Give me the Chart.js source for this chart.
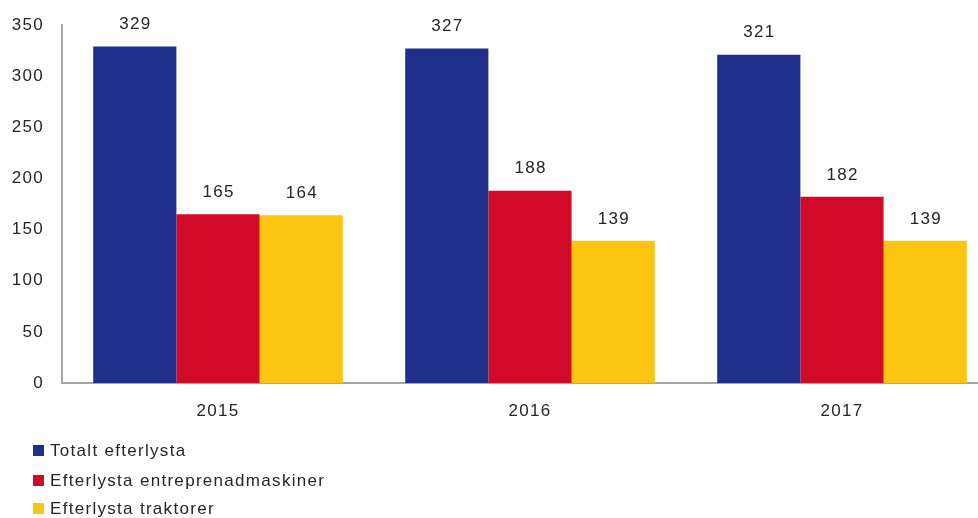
<!DOCTYPE html>
<html>
<head>
<meta charset="utf-8">
<script src="https://cdn.jsdelivr.net/npm/chart.js@4/dist/chart.umd.min.js"></script>
<style>
  html, body { margin: 0; padding: 0; background: #fff; overflow: hidden; }
  #wrap { width: 1000px; height: 518px; position: relative; }
</style>
</head>
<body>
<div id="wrap"><canvas id="c" width="1000" height="518"></canvas></div>
<script>
const categories = ['2015', '2016', '2017'];
const seriesNames = ['Totalt efterlysta', 'Efterlysta entreprenadmaskiner', 'Efterlysta traktorer'];
const totalt = [329, 327, 321];
const entreprenad = [165, 188, 182];
const traktorer = [164, 139, 139];
const yTicks = [0, 50, 100, 150, 200, 250, 300, 350];

const colors = ['#20308A', '#D10A2A', '#FAC411'];
const FONT = 'Liberation Sans';
const textColor = '#262626';
const SPACING = '1.3px';

const spacingPlugin = {
  id: 'spacing',
  beforeDraw(chart) { chart.ctx.letterSpacing = SPACING; }
};

const valueLabels = {
  id: 'valueLabels',
  afterDatasetsDraw(chart) {
    const ctx = chart.ctx;
    ctx.save();
    ctx.letterSpacing = SPACING;
    ctx.font = '17px "' + FONT + '"';
    ctx.fillStyle = textColor;
    ctx.textAlign = 'center';
    ctx.textBaseline = 'middle';
    chart.data.datasets.forEach((ds, i) => {
      chart.getDatasetMeta(i).data.forEach((bar, j) => {
        ctx.fillText(String(ds.data[j]), bar.x + 0.6, bar.y - 22);
      });
    });
    ctx.restore();
  }
};

const sideLegend = {
  id: 'sideLegend',
  afterDraw(chart) {
    const ctx = chart.ctx;
    ctx.save();
    ctx.letterSpacing = SPACING;
    ctx.font = '17px "' + FONT + '"';
    ctx.textBaseline = 'middle';
    ctx.textAlign = 'left';
    const rows = [451, 481, 509];
    chart.data.datasets.forEach((ds, i) => {
      const y = rows[i];
      ctx.fillStyle = ds.backgroundColor;
      ctx.fillRect(33, y - 6, 11, 11);
      ctx.fillStyle = textColor;
      ctx.fillText(ds.label, 50, y);
    });
    ctx.restore();
  }
};

new Chart(document.getElementById('c'), {
  type: 'bar',
  data: {
    labels: categories,
    datasets: [
      { label: seriesNames[0], data: totalt, backgroundColor: colors[0] },
      { label: seriesNames[1], data: entreprenad, backgroundColor: colors[1] },
      { label: seriesNames[2], data: traktorer, backgroundColor: colors[2] }
    ]
  },
  options: {
    responsive: false,
    animation: false,
    layout: { padding: { top: 25, right: 2, left: 0, bottom: 0 } },
    datasets: { bar: { categoryPercentage: 0.8, barPercentage: 1.0 } },
    plugins: { legend: { display: false }, tooltip: { enabled: false } },
    scales: {
      x: {
        grid: { display: false, drawTicks: false },
        border: { display: true, color: '#A6A6A6', width: 2 },
        ticks: { font: { family: FONT, size: 17 }, color: textColor, padding: 18 },
        afterFit(s) { s.height = 135; s.paddingLeft = 0; s.paddingRight = 0; }
      },
      y: {
        min: 0, max: 350,
        afterBuildTicks(s) { s.ticks = yTicks.map(v => ({ value: v })); },
        grid: { display: false, drawTicks: false },
        border: { display: true, color: '#A6A6A6', width: 2 },
        ticks: { font: { family: FONT, size: 17 }, color: textColor, padding: 18 },
        afterFit(s) { s.width = 62; s.paddingTop = 0; s.paddingBottom = 0; }
      }
    }
  },
  plugins: [spacingPlugin, valueLabels, sideLegend]
});
</script>
</body>
</html>
